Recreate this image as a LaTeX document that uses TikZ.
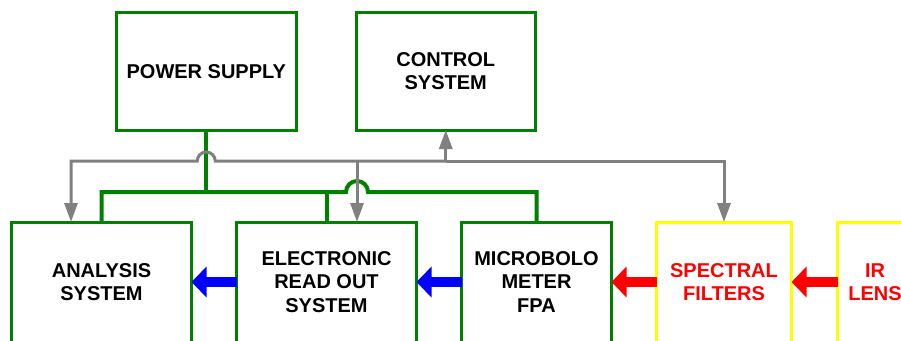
\documentclass[tikz,border=0pt]{standalone}
\usepackage{fontspec}
\setmainfont{Liberation Sans}
\usetikzlibrary{arrows.meta,calc}
\definecolor{boxgreen}{RGB}{0,128,0}
\definecolor{linegray}{RGB}{128,128,128}
\definecolor{boxyellow}{RGB}{255,255,0}
\begin{document}
\begin{tikzpicture}[x=1pt,y=-1pt,
  every node/.style={font=\fontsize{20}{23.5}\selectfont\bfseries, align=center, inner sep=0pt, outer sep=0pt},
  gbox/.style={draw=boxgreen, line width=3pt, fill=white, text=black},
  ybox/.style={draw=boxyellow, line width=3pt, fill=white, text=red},
  bus/.style={draw=boxgreen, line width=4pt},
  sig/.style={draw=linegray, line width=3pt},
  sigarrow/.style={sig, -{Triangle[length=19pt,width=13pt]}},
  fatblue/.style={draw=blue, line width=10pt, -{Triangle[length=15pt,width=30pt]}},
  fatred/.style={draw=red, line width=10pt, -{Triangle[length=15pt,width=30pt]}}
]
\useasboundingbox (0,0) rectangle (901,340);
\clip (0,0) rectangle (901,340);
\fill[white] (0,0) rectangle (901,340);

% boxes
\node[gbox, minimum width=179.5pt, minimum height=117.5pt] (ps) at (206.25,71.25) {POWER SUPPLY};
\node[gbox, minimum width=178.5pt, minimum height=117.5pt] (cs) at (445.75,71.25) {CONTROL\\SYSTEM};
\node[gbox, minimum width=180pt, minimum height=120pt] (ana) at (101.5,282) {ANALYSIS\\SYSTEM};
\node[gbox, minimum width=180pt, minimum height=120pt] (ero) at (326.5,282) {ELECTRONIC\\READ OUT\\SYSTEM};
\node[gbox, minimum width=150pt, minimum height=120pt] (mic) at (536.5,282) {MICROBOLO\\METER\\FPA};
\node[ybox, minimum width=135pt, minimum height=120pt] (spf) at (724,282) {SPECTRAL\\FILTERS};
\node[ybox, minimum width=75pt, minimum height=120pt] (irl) at (875,282) {IR\\LENS};

% junctions
\coordinate (gj) at (445.75,161);
\coordinate (gL) at (71,161);
\coordinate (gE) at (357,161);
\coordinate (bj) at (206.25,192);

% green power bus
\draw[bus] (ps.south) -- (bj);
\draw[bus] (ana.north) -- (ana.north |- bj) -- ($(gE |- bj)+(-11,0)$)
  arc[start angle=180, end angle=360, radius=11] -- (mic.north |- bj) -- (mic.north);
\draw[bus] (ero.north) -- (ero.north |- bj);

% gray control lines
\draw[sigarrow] (gj) -- (cs.south);
\draw[sigarrow] (gj) -- ($(ps.south |- gj)+(9,0)$)
  arc[start angle=0, end angle=-180, radius=9] -- (gL) -- (gL |- ana.north);
\draw[sigarrow] (gE) -- (gE |- ero.north);
\draw[sigarrow] (gj) -- (gj -| spf.north) -- (spf.north);

% signal flow arrows
\draw[fatblue] (ero.west) -- (ana.east);
\draw[fatblue] (mic.west) -- (ero.east);
\draw[fatred] (spf.west) -- (mic.east);
\draw[fatred] (irl.west) -- (spf.east);
\end{tikzpicture}
\end{document}
